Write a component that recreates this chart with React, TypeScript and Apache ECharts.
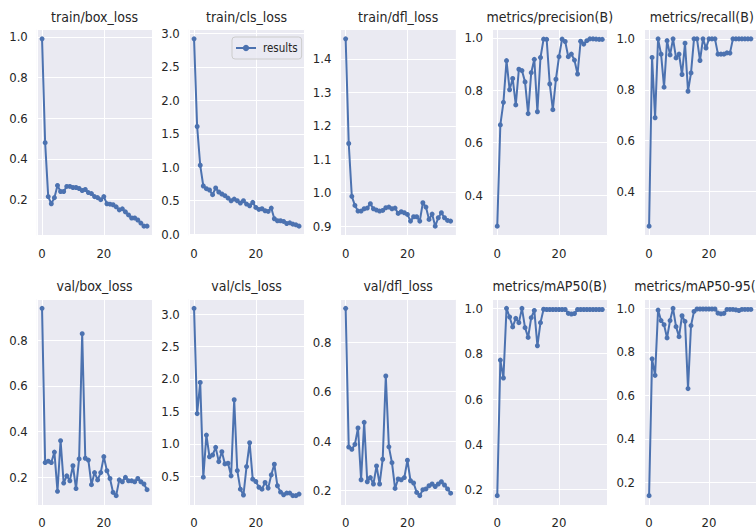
import React, { useEffect, useRef } from "react";
import * as echarts from "echarts";

const epochs = [0,1,2,3,4,5,6,7,8,9,10,11,12,13,14,15,16,17,18,19,20,21,22,23,24,25,26,27,28,29,30,31,32,33,34];

const titles = [
  "train/box_loss", "train/cls_loss", "train/dfl_loss", "metrics/precision(B)", "metrics/recall(B)",
  "val/box_loss", "val/cls_loss", "val/dfl_loss", "metrics/mAP50(B)", "metrics/mAP50-95(B)",
];

const trainBoxLoss = [0.99,0.48,0.215,0.18,0.21,0.27,0.24,0.24,0.265,0.265,0.26,0.26,0.255,0.245,0.25,0.235,0.23,0.215,0.21,0.2,0.215,0.18,0.178,0.175,0.165,0.15,0.155,0.14,0.125,0.11,0.11,0.1,0.085,0.07,0.07];
const trainClsLoss = [2.92,1.61,1.03,0.72,0.68,0.66,0.59,0.69,0.63,0.6,0.575,0.54,0.5,0.525,0.5,0.465,0.5,0.45,0.425,0.475,0.4,0.37,0.38,0.35,0.34,0.39,0.23,0.2,0.2,0.19,0.16,0.17,0.15,0.14,0.12];
const trainDflLoss = [1.46,1.147,0.989,0.962,0.945,0.945,0.952,0.954,0.967,0.952,0.948,0.945,0.947,0.955,0.957,0.952,0.954,0.938,0.943,0.94,0.935,0.915,0.928,0.928,0.915,0.97,0.957,0.92,0.936,0.9,0.925,0.94,0.925,0.917,0.915];
const precision = [0.282,0.668,0.754,0.913,0.802,0.845,0.744,0.88,0.875,0.832,0.711,0.867,0.918,0.718,0.925,0.995,0.994,0.824,0.726,0.842,0.928,0.995,0.986,0.928,0.938,0.915,0.862,0.987,0.976,0.989,0.996,0.996,0.995,0.994,0.994];
const recall = [0.264,0.927,0.69,1.0,0.94,0.81,0.993,0.937,1.0,0.925,0.94,0.86,0.983,0.794,0.866,1.0,1.0,0.915,1.0,0.964,1.0,1.0,1.0,0.94,0.94,0.94,0.945,0.944,1.0,1.0,1.0,1.0,1.0,1.0,1.0];
const valBoxLoss = [0.94,0.264,0.27,0.264,0.31,0.138,0.36,0.174,0.206,0.184,0.25,0.15,0.28,0.829,0.283,0.275,0.167,0.22,0.188,0.22,0.29,0.228,0.194,0.133,0.119,0.188,0.18,0.199,0.184,0.184,0.18,0.194,0.18,0.17,0.145];
const valClsLoss = [3.09,1.466,1.947,0.485,1.134,0.8,0.827,0.945,0.725,0.878,0.69,0.7,0.505,1.68,0.587,0.3,0.21,0.648,1.016,0.454,0.418,0.33,0.3,0.403,0.316,0.52,0.684,0.352,0.255,0.214,0.24,0.24,0.2,0.2,0.224];
const valDflLoss = [0.936,0.376,0.367,0.387,0.453,0.244,0.476,0.236,0.253,0.227,0.3,0.227,0.327,0.663,0.377,0.313,0.209,0.247,0.244,0.253,0.323,0.24,0.231,0.193,0.18,0.204,0.207,0.22,0.227,0.217,0.227,0.236,0.223,0.207,0.19];
const mAP50 = [0.174,0.772,0.693,1.0,0.962,0.918,0.956,0.937,1.0,0.915,0.872,0.959,0.991,0.835,0.937,0.996,0.995,0.995,0.995,0.995,0.995,0.995,0.995,0.978,0.975,0.977,0.995,0.995,0.995,0.995,0.995,0.995,0.995,0.995,0.995];
const mAP5095 = [0.139,0.768,0.692,0.992,0.944,0.925,0.864,0.944,1.0,0.916,0.87,0.966,0.94,0.631,0.921,0.986,0.997,0.997,0.997,0.997,0.997,0.997,0.997,0.978,0.975,0.977,0.995,0.995,0.995,0.993,0.99,0.995,0.995,0.995,0.995];

const seriesValues = [trainBoxLoss, trainClsLoss, trainDflLoss, precision, recall, valBoxLoss, valClsLoss, valDflLoss, mAP50, mAP5095];

const FONT = "'Liberation Sans Narrow', 'DejaVu Sans Condensed', 'Liberation Sans', sans-serif";
const TEXT = "#262626";
const BLUE = "#4C72B0";

const COL_LEFT = [36.8, 188.8, 340.4, 492, 644];
const PLOT_W = 115.5;
const ROW_TOP = [29.5, 299];
const PLOT_H = 206;

export default function App() {
  const ref = useRef<HTMLDivElement>(null);
  useEffect(() => {
    if (!ref.current) return;
    const chart = echarts.init(ref.current, undefined, { renderer: "svg" });
    const grids: any[] = [];
    const xAxes: any[] = [];
    const yAxes: any[] = [];
    const series: any[] = [];
    const graphics: any[] = [];
    seriesValues.forEach((vals, i) => {
      const r = Math.floor(i / 5);
      const c = i % 5;
      grids.push({
        left: COL_LEFT[c], top: ROW_TOP[r], width: PLOT_W, height: PLOT_H,
        show: true, backgroundColor: "#EAEAF2", borderWidth: 0, containLabel: false,
      });
      const xs = epochs;
      const xSpan = xs[xs.length - 1] - xs[0];
      xAxes.push({
        type: "value", gridIndex: i,
        min: xs[0] - 0.05 * xSpan, max: xs[xs.length - 1] + 0.05 * xSpan,
        splitNumber: 2,
        axisLine: { show: false }, axisTick: { show: false },
        splitLine: { show: true, lineStyle: { color: "#ffffff", width: 1 } },
        axisLabel: {
          show: true, color: TEXT, fontSize: 13, fontFamily: FONT, margin: 11,
          showMinLabel: false, showMaxLabel: false,
          formatter: (v: number) => String(Math.round(v)),
        },
      });
      const lo = Math.min(...vals);
      const hi = Math.max(...vals);
      const span = hi - lo;
      yAxes.push({
        type: "value", gridIndex: i,
        min: lo - 0.05 * span, max: hi + 0.05 * span,
        axisLine: { show: false }, axisTick: { show: false },
        splitLine: { show: true, lineStyle: { color: "#ffffff", width: 1 } },
        axisLabel: {
          show: true, color: TEXT, fontSize: 13, fontFamily: FONT, margin: 9,
          showMinLabel: false, showMaxLabel: false,
          formatter: (v: number) => v.toFixed(1),
        },
      });
      series.push({
        type: "line", name: "results", xAxisIndex: i, yAxisIndex: i,
        data: epochs.map((e, j) => [e, vals[j]]),
        symbol: "circle", symbolSize: 5, showSymbol: true,
        lineStyle: { color: BLUE, width: 2 },
        itemStyle: { color: BLUE },
        emphasis: { disabled: true },
      });
      graphics.push({
        type: "text",
        x: COL_LEFT[c] + PLOT_W / 2,
        y: ROW_TOP[r] - 13,
        style: {
          text: titles[i], align: "center", verticalAlign: "middle",
          font: `14px ${FONT}`, fill: TEXT,
        },
      });
    });
    chart.setOption({
      animation: false,
      tooltip: { show: false },
      grid: grids,
      xAxis: xAxes,
      yAxis: yAxes,
      series,
      graphic: graphics,
      legend: {
        data: ["results"],
        left: 232, top: 37,
        padding: [5, 4, 5, 3],
        itemWidth: 20, itemHeight: 8,
        backgroundColor: "rgba(234,234,242,0.8)",
        borderColor: "#cccccc", borderWidth: 1, borderRadius: 3,
        textStyle: { color: TEXT, fontSize: 11.5, fontFamily: FONT, padding: [0, 0, 0, 2] },
        selectedMode: false,
      },
    });
    return () => chart.dispose();
  }, []);
  return (
    <div
      ref={ref}
      style={{ position: "absolute", left: 0, top: 0, width: 756, height: 530, background: "#ffffff" }}
    />
  );
}
